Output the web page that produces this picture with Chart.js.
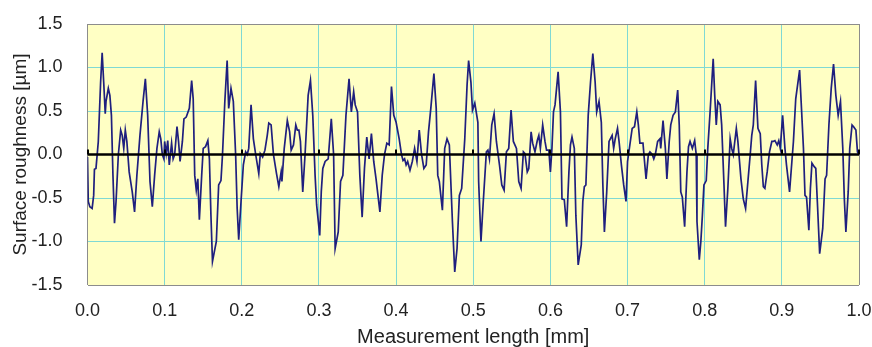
<!DOCTYPE html>
<html lang="en">
  <head>
    <meta charset="UTF-8">
    <title>Surface roughness profile</title>
    <style>
      html, body { margin: 0; padding: 0; background: #fff; }
      #wrap { width: 872px; height: 347px; }
    </style>
    <script src="https://cdn.jsdelivr.net/npm/chart.js"></script>
  </head>

  <body>
    <div id="wrap"><canvas id="profile"></canvas></div>

<script>
  // roughness profile, position along the trace [mm]
  const positions = [
    0.000, 0.001, 0.003, 0.006, 0.008, 0.009, 0.011, 0.014, 0.017, 0.019,
    0.021, 0.023, 0.024, 0.027, 0.029, 0.031, 0.033, 0.035, 0.037, 0.040,
    0.043, 0.045, 0.047, 0.049, 0.051, 0.054, 0.058, 0.061, 0.064, 0.068,
    0.072, 0.075, 0.078, 0.081, 0.084, 0.087, 0.090, 0.093, 0.095, 0.097,
    0.099, 0.100, 0.102, 0.104, 0.106, 0.109, 0.111, 0.113, 0.116, 0.118,
    0.120, 0.123, 0.125, 0.128, 0.132, 0.135, 0.137, 0.139, 0.141, 0.143,
    0.145, 0.148, 0.150, 0.153, 0.156, 0.158, 0.160,
    0.162, 0.167, 0.170, 0.173, 0.175, 0.178, 0.181, 0.183, 0.186, 0.189,
    0.192, 0.194, 0.196, 0.199, 0.202, 0.205, 0.207, 0.209, 0.212, 0.215,
    0.218, 0.222, 0.224, 0.227, 0.230, 0.233, 0.235, 0.238, 0.241, 0.245,
    0.248, 0.251, 0.252, 0.255, 0.259, 0.262, 0.264, 0.267, 0.270, 0.272,
    0.274, 0.276, 0.279, 0.282, 0.286, 0.289, 0.292, 0.295, 0.297, 0.301,
    0.303, 0.305, 0.308, 0.312, 0.316, 0.319, 0.321, 0.325, 0.328, 0.331,
    0.335, 0.339, 0.342, 0.345, 0.347, 0.350, 0.353, 0.356, 0.359, 0.362,
    0.365, 0.368, 0.371, 0.374, 0.379, 0.382, 0.385, 0.388, 0.391, 0.394,
    0.397, 0.400, 0.404, 0.407, 0.409, 0.411, 0.413, 0.415, 0.418, 0.421,
    0.424, 0.427, 0.430, 0.433, 0.436, 0.439, 0.442, 0.445, 0.449, 0.452,
    0.454, 0.456, 0.460, 0.463, 0.466, 0.469, 0.473, 0.476, 0.479, 0.482,
    0.485, 0.489, 0.492, 0.494, 0.497, 0.499, 0.502, 0.506,
    0.507, 0.510, 0.513, 0.517, 0.519, 0.521, 0.524, 0.527, 0.530, 0.534,
    0.537, 0.540, 0.543, 0.546, 0.549, 0.552, 0.556, 0.559, 0.562, 0.565,
    0.567, 0.570, 0.572, 0.575, 0.577, 0.580, 0.583, 0.585, 0.587, 0.590,
    0.593, 0.595, 0.598, 0.600, 0.602, 0.604, 0.606, 0.610, 0.613, 0.615,
    0.618, 0.621, 0.624, 0.626, 0.628, 0.631, 0.633, 0.636, 0.640, 0.642,
    0.644, 0.646, 0.649, 0.652, 0.655, 0.658, 0.660, 0.663, 0.666, 0.668,
    0.670, 0.673, 0.676,
    0.680, 0.682, 0.684, 0.687, 0.689, 0.692, 0.695, 0.698, 0.700, 0.703,
    0.706, 0.709, 0.712, 0.714, 0.716, 0.720, 0.722, 0.724, 0.727, 0.729,
    0.732, 0.734, 0.736, 0.739, 0.742, 0.743, 0.746, 0.749, 0.751, 0.754,
    0.756, 0.759, 0.762, 0.765, 0.767, 0.769, 0.771, 0.774, 0.777, 0.779,
    0.781, 0.784, 0.787, 0.789, 0.790, 0.793, 0.795, 0.797, 0.799, 0.802,
    0.804, 0.807, 0.811, 0.813, 0.815, 0.817, 0.820, 0.822, 0.825, 0.827,
    0.830, 0.833, 0.835, 0.837, 0.841, 0.843,
    0.847, 0.850, 0.853, 0.856, 0.859, 0.861, 0.863, 0.866, 0.869, 0.872,
    0.874, 0.876, 0.878, 0.881, 0.884, 0.887, 0.889, 0.891, 0.894, 0.896,
    0.898, 0.901, 0.904, 0.906, 0.910, 0.913, 0.915, 0.918, 0.923, 0.925,
    0.928, 0.930, 0.932, 0.935, 0.937, 0.939, 0.942, 0.944, 0.946, 0.949,
    0.953, 0.956, 0.958, 0.961, 0.964, 0.967, 0.970, 0.973, 0.976, 0.979,
    0.981, 0.983, 0.986, 0.988, 0.991, 0.993, 0.996, 0.998, 1.000
  ];

  // profile height [µm]
  const heights = [
    -0.03, -0.54, -0.60, -0.62, -0.47, -0.17, -0.16, 0.15, 0.83, 1.17,
    0.83, 0.47, 0.61, 0.76, 0.68, 0.45, -0.24, -0.79, -0.54, 0.00,
    0.28, 0.22, 0.07, 0.28, 0.15, -0.20, -0.43, -0.66, -0.24, 0.22,
    0.61, 0.87, 0.45, -0.31, -0.60, -0.24, 0.07, 0.26, 0.18, 0.00,
    -0.05, 0.15, 0.01, 0.16, -0.12, 0.13, -0.05, 0.00, 0.32, 0.15,
    -0.08, 0.15, 0.41, 0.43, 0.53, 0.85, 0.64, -0.24, -0.41, -0.28,
    -0.75, -0.24, 0.07, 0.09, 0.16, -0.05, -0.70,
    -1.23, -1.00, -0.35, -0.30, 0.00, 0.61, 1.08, 0.53, 0.76, 0.61,
    0.00, -0.62, -0.98, -0.54, -0.12, 0.03, 0.00, 0.07, 0.57, 0.18,
    0.00, -0.22, 0.01, -0.03, 0.05, 0.22, 0.36, 0.34, 0.00, -0.22,
    -0.37, -0.20, -0.31, 0.07, 0.39, 0.26, 0.05, 0.11, 0.34, 0.28,
    0.28, 0.15, -0.43, 0.00, 0.68, 0.85, 0.45, -0.24, -0.58, -0.93,
    -0.43, -0.16, -0.08, -0.05, 0.41, 0.00, -1.08, -0.89, -0.31, -0.24,
    0.45, 0.87, 0.49, 0.72, 0.57, 0.49, -0.24, -0.72, -0.16, 0.20,
    -0.05, 0.24, -0.08, -0.28, -0.66, -0.24, 0.00, 0.13, 0.11, 0.78,
    0.45, 0.37, 0.18, 0.00, -0.07, -0.05, -0.12, -0.08, -0.18, -0.08,
    0.07, -0.08, 0.28, 0.00, -0.16, -0.12, 0.26, 0.53, 0.93, 0.53,
    -0.24, -0.31, -0.64, 0.07, 0.18, 0.11, -0.77, -1.35, -1.08, -0.47,
    -0.39, 0.18, 0.80, 1.08, 0.83, 0.51, 0.59, 0.37,
    -0.31, -1.00, -0.54, 0.03, 0.05, -0.05, 0.34, 0.47, 0.15, -0.12,
    -0.35, -0.41, 0.03, 0.07, 0.51, 0.15, 0.07, -0.31, -0.39, 0.03,
    0.01, -0.20, -0.16, 0.26, 0.13, 0.03, 0.16, 0.22, 0.07, 0.34,
    0.15, 0.05, 0.05, -0.20, 0.07, 0.49, 0.57, 0.95, 0.49, -0.51,
    -0.52, -0.83, -0.20, 0.11, 0.20, 0.07, -0.70, -1.27, -1.04, -0.54,
    -0.37, -0.35, 0.45, 0.83, 1.16, 0.83, 0.49, 0.61, 0.37, -0.35,
    -0.89, -0.43, 0.15,
    0.22, 0.07, 0.18, 0.30, 0.15, -0.12, -0.35, -0.54, -0.08, 0.11,
    0.30, 0.32, 0.49, 0.34, 0.13, 0.13, -0.08, -0.28, 0.00, 0.03,
    0.00, -0.05, 0.00, 0.15, 0.18, 0.07, 0.39, 0.07, -0.28, 0.15,
    0.34, 0.45, 0.49, 0.74, 0.34, -0.43, -0.49, -0.83, -0.20, 0.09,
    0.15, 0.07, 0.16, 0.00, -0.77, -1.21, -1.00, -0.70, -0.35, -0.30,
    0.07, 0.49, 1.10, 0.68, 0.34, 0.61, 0.57, 0.34, -0.35, -0.83,
    -0.39, 0.18, 0.07, 0.00, 0.30, 0.15,
    -0.28, -0.51, -0.62, -0.31, 0.00, 0.22, 0.34, 0.85, 0.30, 0.24,
    -0.12, -0.37, -0.39, -0.20, 0.03, 0.15, 0.15, 0.16, 0.11, 0.16,
    0.07, 0.45, 0.07, -0.12, -0.43, -0.08, 0.15, 0.64, 0.97, 0.61,
    0.07, -0.47, -0.49, -0.87, -0.39, -0.10, -0.14, -0.16, -0.54, -1.14,
    -0.85, -0.28, -0.24, 0.34, 0.76, 1.04, 0.68, 0.45, 0.61, 0.07,
    -0.51, -0.89, -0.43, 0.07, 0.34, 0.32, 0.28, 0.03, 0.00
  ];

  // axis ranges and ticks
  const xTicks = [0.0, 0.1, 0.2, 0.3, 0.4, 0.5, 0.6, 0.7, 0.8, 0.9, 1.0];
  const yTicks = [-1.5, -1.0, -0.5, 0.0, 0.5, 1.0, 1.5];
  const baseline = [{ x: 0, y: 0 }, { x: 1, y: 0 }];

  const FONT = "'Liberation Sans', Arial, sans-serif";
  const GRID = '#7fd9d4';
  const FRAME = '#8c8c8c';

  // fixed axis boxes, no extra room for overhanging labels
  function fixBox(s, size) {
    if (s.isHorizontal()) s.height = size; else s.width = size;
    s.paddingTop = s.paddingBottom = s.paddingLeft = s.paddingRight = 0;
  }

  // pale yellow plot area
  const plotBackground = {
    id: 'plotBackground',
    beforeDraw(chart) {
      const { ctx, chartArea: a } = chart;
      ctx.save();
      ctx.fillStyle = '#ffffc4';
      ctx.fillRect(a.left, a.top, a.right - a.left, a.bottom - a.top);
      ctx.restore();
    }
  };

  // small upward tick marks on the zero line at every x tick
  const zeroTicks = {
    id: 'zeroTicks',
    afterDatasetsDraw(chart) {
      const { ctx, scales: { x, y } } = chart;
      const y0 = y.getPixelForValue(0);
      ctx.save();
      ctx.strokeStyle = '#000';
      ctx.lineWidth = 2;
      xTicks.forEach((v) => {
        const px = Math.round(x.getPixelForValue(v));
        ctx.beginPath();
        ctx.moveTo(px, y0);
        ctx.lineTo(px, y0 - 5);
        ctx.stroke();
      });
      ctx.restore();
    }
  };

  const ctx = document.getElementById('profile');

  new Chart(ctx, {
    type: 'line',
    data: {
      datasets: [
        {
          label: 'zero',
          data: baseline,
          borderColor: '#000',
          borderWidth: 2.5,
          pointRadius: 0,
        },
        {
          label: 'profile',
          data: positions.map((p, i) => ({ x: p, y: heights[i] })),
          borderColor: '#1f1f7e',
          borderWidth: 1.7,
          pointRadius: 0,
          tension: 0,
        },
      ]
    },
    options: {
      responsive: true,
      maintainAspectRatio: false,
      animation: false,
      events: [],
      layout: { padding: { top: 24, right: 13, left: 0, bottom: 0 } },
      plugins: {
        legend: { display: false },
        tooltip: { enabled: false },
      },
      scales: {
        x: {
          type: 'linear',
          min: 0,
          max: 1,
          afterFit: (s) => fixBox(s, 62),
          afterBuildTicks: (s) => { s.ticks = xTicks.map(v => ({ value: v })); },
          border: { display: false },
          grid: {
            drawTicks: false,
            lineWidth: 1,
            color: (c) => (c.tick && (c.tick.value === 0 || c.tick.value === 1)) ? FRAME : GRID,
          },
          ticks: {
            padding: 15,
            color: '#222',
            font: { family: FONT, size: 18 },
            callback: (v) => Number(v).toFixed(1),
          },
          title: {
            display: true,
            text: 'Measurement length [mm]',
            color: '#222',
            font: { family: FONT, size: 20 },
            padding: { top: 0, bottom: -2 },
          },
        },
        y: {
          min: -1.5,
          max: 1.5,
          afterFit: (s) => fixBox(s, 87.5),
          afterBuildTicks: (s) => { s.ticks = yTicks.map(v => ({ value: v })); },
          border: { display: false },
          grid: {
            drawTicks: false,
            lineWidth: 1,
            color: (c) => (c.tick && Math.abs(c.tick.value) === 1.5) ? FRAME : GRID,
          },
          ticks: {
            padding: 25,
            color: '#222',
            font: { family: FONT, size: 18 },
            callback: (v) => Number(v).toFixed(1),
          },
          title: {
            display: true,
            text: 'Surface roughness [µm]',
            color: '#222',
            font: { family: FONT, size: 19 },
            padding: { top: 9, bottom: 0 },
          },
        },
      }
    },
    plugins: [plotBackground, zeroTicks]
  });
</script>

  </body>
</html>
